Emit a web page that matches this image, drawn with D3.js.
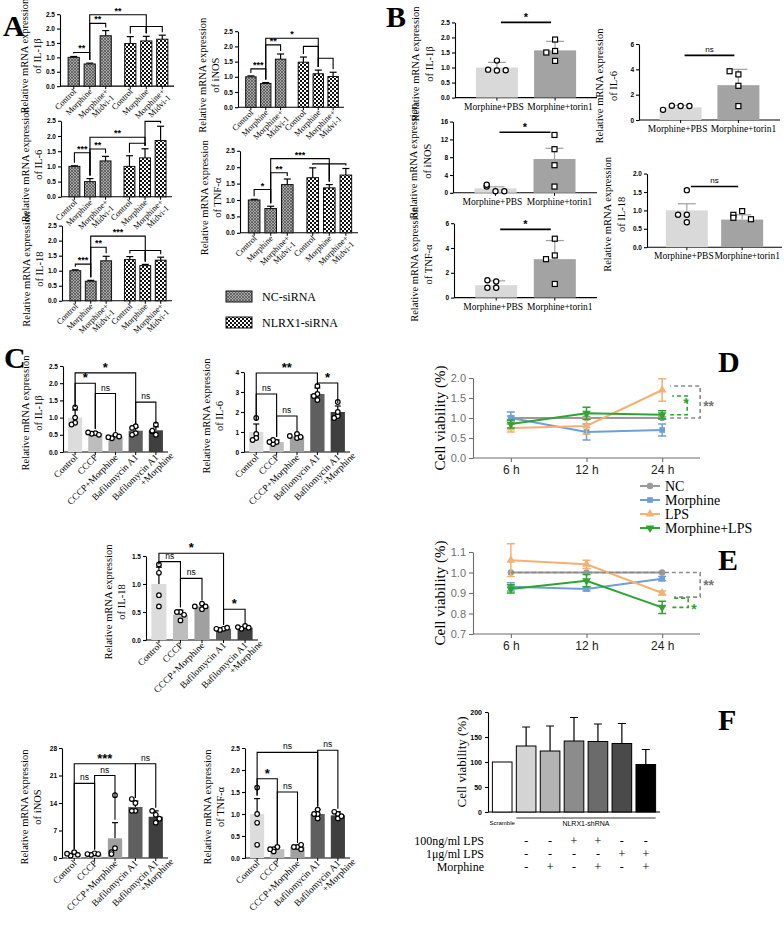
<!DOCTYPE html>
<html><head><meta charset="utf-8">
<script src="https://cdn.jsdelivr.net/npm/d3@7"></script>
<style>body{margin:0;background:#fff}svg{display:block}</style>
</head><body>
<svg id="fig" width="784" height="927"></svg>
<script>
// ================= DATA =================
const A_groups = ["NC-siRNA", "NLRX1-siRNA"];
const A_treat = ["Control", "Morphine", "Morphine+Midvi-1"];
const A_IL1b_mean = [1.0, 0.77, 1.75, 1.48, 1.57, 1.63];
const A_IL1b_err  = [0.03, 0.03, 0.18, 0.24, 0.16, 0.14];
const A_IL1b_sig  = [[0,1,1.17,"**"],[1,2,2.18,"**"],[1,4,2.48,"**"],[3,4,2.07,""],[4,5,2.07,""]];
const A_iNOS_mean = [1.0, 0.78, 1.58, 1.48, 1.1, 1.01];
const A_iNOS_err  = [0.03, 0.03, 0.17, 0.17, 0.12, 0.14];
const A_iNOS_sig  = [[0,1,1.26,"***"],[1,2,2.05,"**"],[1,4,2.27,"*"],[3,4,2.0,""],[4,5,1.61,""]];
const A_IL6_mean  = [1.0, 0.5, 1.18, 1.0, 1.28, 1.85];
const A_IL6_err   = [0.02, 0.1, 0.15, 0.35, 0.3, 0.47];
const A_IL6_sig   = [[0,1,1.45,"***"],[1,2,1.57,"**"],[1,4,1.96,"**"],[3,4,1.76,""],[4,5,2.48,""]];
const A_TNF_mean  = [1.0, 0.74, 1.47, 1.68, 1.37, 1.76];
const A_TNF_err   = [0.02, 0.07, 0.17, 0.3, 0.1, 0.2];
const A_TNF_sig   = [[0,1,1.32,"*"],[1,2,1.83,"**"],[1,4,2.26,"***"],[3,4,2.1,""],[4,5,2.1,""]];
const A_IL18_mean = [1.0, 0.65, 1.33, 1.37, 1.17, 1.35];
const A_IL18_err  = [0.03, 0.03, 0.15, 0.1, 0.04, 0.1];
const A_IL18_sig  = [[0,1,1.22,"***"],[1,2,1.78,"**"],[1,4,2.15,"***"],[3,4,1.67,""],[4,5,1.67,""]];
const A_ticks = [0, 0.5, 1.0, 1.5, 2.0, 2.5];

const B_cats = ["Morphine+PBS", "Morphine+torin1"];
const B_IL1b_mean = [1.0, 1.57], B_IL1b_err = [0.17, 0.3];
const B_IL1b_pts = [[0.9, 0.93, 0.91, 1.23], [1.93, 1.55, 1.5, 1.22]];
const B_IL6_mean = [1.0, 2.75], B_IL6_err = [0.15, 1.25];
const B_IL6_pts = [[1.1, 1.12, 1.1, 0.8], [3.6, 3.85, 2.7, 1.1]];
const B_iNOS_mean = [1.0, 7.6], B_iNOS_err = [0.35, 2.4];
const B_iNOS_pts = [[0.35, 1.4, 1.8, 0.35], [13.0, 9.8, 6.2, 1.4]];
const B_IL18_mean = [1.0, 0.75], B_IL18_err = [0.18, 0.13];
const B_IL18_pts = [[1.55, 0.88, 0.88, 0.68], [0.98, 0.88, 0.8, 0.76]];
const B_TNF_mean = [1.0, 3.1], B_TNF_err = [0.35, 1.5];
const B_TNF_pts = [[1.3, 1.4, 0.8, 0.8], [4.75, 3.4, 3.1, 1.1]];
const B_sigLabels = ["*", "ns", "*", "ns", "*"];

const C_cats = ["Control", "CCCP", "CCCP+Morphine", "Bafilomycin A1", "Bafilomycin A1|+Morphine"];
const C_IL1b_mean = [1.0, 0.55, 0.45, 0.62, 0.63], C_IL1b_err = [0.22, 0.03, 0.05, 0.1, 0.1];
const C_IL1b_pts = [[1.3, 1.0, 0.85, 0.8], [0.55, 0.53, 0.5, 0.57], [0.5, 0.4, 0.45, 0.43], [0.75, 0.55, 0.5, 0.7], [0.8, 0.5, 0.6, 0.62]];
const C_IL1b_sig = [[0,3,2.3,"*"],[0,1,2.0,"*"],[1,2,1.7,"ns"],[3,4,1.45,"ns"]];
const C_IL6_mean = [1.0, 0.5, 0.78, 2.9, 2.0], C_IL6_err = [0.4, 0.1, 0.12, 0.3, 0.3];
const C_IL6_pts = [[1.7, 0.9, 0.7, 0.6], [0.5, 0.4, 0.6, 0.5], [0.9, 0.7, 0.75, 0.8], [3.3, 2.9, 2.6, 2.8], [2.5, 1.8, 1.7, 2.0]];
const C_IL6_sig = [[0,3,3.95,"**"],[0,1,2.9,"ns"],[1,2,1.8,"ns"],[3,4,3.45,"*"]];
const C_IL18_mean = [1.0, 0.45, 0.6, 0.2, 0.22], C_IL18_err = [0.3, 0.08, 0.05, 0.02, 0.02];
const C_IL18_pts = [[1.35, 1.2, 0.6, 0.8], [0.5, 0.35, 0.5, 0.45], [0.65, 0.55, 0.6, 0.6], [0.2, 0.18, 0.22, 0.2], [0.25, 0.2, 0.22, 0.23]];
const C_IL18_sig = [[0,3,1.55,"*"],[0,1,1.4,"ns"],[1,2,1.1,"ns"],[3,4,0.55,"*"]];
const C_iNOS_mean = [1.0, 1.0, 5.0, 13.0, 10.5], C_iNOS_err = [0.5, 0.4, 4.0, 1.5, 1.5];
const C_iNOS_pts = [[1.5, 0.6, 0.8, 1.1], [1.2, 0.8, 1.0, 1.0], [16, 2.5, 1.5, 1.0], [14, 12, 15, 12], [11, 9, 12, 10]];
const C_iNOS_sig = [[0,3,24,"***"],[0,1,19,"ns"],[1,2,21,"ns"],[3,4,24,"ns"]];
const C_TNF_mean = [1.0, 0.2, 0.25, 1.0, 0.97], C_TNF_err = [0.35, 0.05, 0.02, 0.1, 0.08];
const C_TNF_pts = [[1.6, 1.0, 0.8, 0.3], [0.25, 0.2, 0.15, 0.2], [0.25, 0.25, 0.2, 0.3], [1.1, 0.9, 1.0, 1.0], [1.0, 0.9, 1.05, 0.95]];
const C_TNF_sig = [[0,3,2.4,"ns"],[0,1,1.8,"*"],[1,2,1.5,"ns"],[3,4,2.45,"ns"]];

const DE_times = ["6 h", "12 h", "24 h"];
const DE_series = ["NC", "Morphine", "LPS", "Morphine+LPS"];
const D_mean = [[1.0, 1.0, 1.0], [1.0, 0.65, 0.7], [0.75, 0.8, 1.7], [0.85, 1.12, 1.08]];
const D_err  = [[0.05, 0.04, 0.03], [0.15, 0.2, 0.15], [0.1, 0.2, 0.28], [0.1, 0.15, 0.1]];
const E_mean = [[1.0, 1.0, 1.0], [0.93, 0.92, 0.97], [1.06, 1.04, 0.9], [0.92, 0.96, 0.83]];
const E_err  = [[0.0, 0.0, 0.0], [0.02, 0.01, 0.01], [0.08, 0.02, 0.01], [0.02, 0.03, 0.03]];

const F_mean = [100, 132, 122, 142, 141, 137, 95];
const F_err  = [0, 38, 50, 47, 35, 40, 30];
const F_rows = ["100ng/ml LPS", "1μg/ml LPS", "Morphine"];
const F_signs = [["-","-","+","+","-","-"], ["-","-","-","-","+","+"], ["-","+","-","+","-","+"]];

// ================= DRAWING =================
const SY = 0.8;
const SERIF = '"Liberation Serif","Times New Roman",serif';
const SANS = '"Liberation Sans",Arial,Helvetica,sans-serif';
const svg = d3.select("#fig");
const defs = svg.append("defs");
const p1 = defs.append("pattern").attr("id","pNC").attr("width",3).attr("height",3).attr("patternUnits","userSpaceOnUse");
p1.append("rect").attr("width",3).attr("height",3).attr("fill","#a8a8a8");
p1.append("path").attr("d","M0,0L3,3M3,0L0,3").attr("stroke","#4a4a4a").attr("stroke-width",0.7);
const p2 = defs.append("pattern").attr("id","pNL").attr("width",4).attr("height",4).attr("patternUnits","userSpaceOnUse");
p2.append("rect").attr("width",4).attr("height",4).attr("fill","#fff");
p2.append("rect").attr("width",2).attr("height",2).attr("fill","#111");
p2.append("rect").attr("x",2).attr("y",2).attr("width",2).attr("height",2).attr("fill","#111");

function letter(t, x, y) {
  svg.append("text").attr("x",x).attr("y",y).text(t)
    .attr("font-family",SERIF).attr("font-weight","bold").attr("font-size",30);
}
function styleAxis(ga, fs, color) {
  ga.selectAll("text").attr("font-family",SANS).attr("font-size",fs).attr("font-weight","bold").attr("fill",color||"#000");
  ga.selectAll("line,path").attr("stroke",color||"#000").attr("stroke-width",1.1);
}
function yLabel(g, lines, x, y, fs) {
  lines.forEach((s,i)=>{
    g.append("text").attr("transform",`translate(${x[i]},${y}) rotate(-90)`)
      .attr("text-anchor","middle").attr("font-family",SERIF).attr("font-size",fs).text(s);
  });
}
function dodge(vals, y, thr) {
  const placed = [];
  const steps = [0, -8, 8, -16, 16];
  return vals.map(v=>{
    const py = y(v);
    let k = 0;
    for (const p of placed) if (Math.abs(p-py) < thr) k++;
    placed.push(py);
    return {py, dx: steps[Math.min(k,4)]};
  });
}
function barPanel(o) {
  const g = svg.append("g");
  const y = d3.scaleLinear().domain([0,o.max]).range([o.yBase,o.yTop]);
  const ga = g.append("g").attr("transform",`translate(${o.axisX},0)`)
    .call(d3.axisLeft(y).tickValues(o.ticks).tickFormat(d3.format(o.fmt)).tickSize(3).tickSizeOuter(0).tickPadding(2));
  styleAxis(ga, o.tickFs || 7);
  g.append("line").attr("x1",o.axisX).attr("x2",o.axisEnd).attr("y1",o.yBase).attr("y2",o.yBase).attr("stroke","#000").attr("stroke-width",1.1);
  o.bars.forEach(b=>g.append("line").attr("x1",b.x).attr("x2",b.x).attr("y1",o.yBase).attr("y2",o.yBase+3).attr("stroke","#000"));
  const errs = ()=>o.bars.forEach((b,i)=>{
    const top = y(o.mean[i]+o.err[i]);
    g.append("line").attr("x1",b.x).attr("x2",b.x).attr("y1",y(o.mean[i])).attr("y2",top).attr("stroke",o.errColor||"#000").attr("stroke-width",1.2);
    g.append("line").attr("x1",b.x-o.cap/2).attr("x2",b.x+o.cap/2).attr("y1",top).attr("y2",top).attr("stroke",o.errColor||"#000").attr("stroke-width",1.2);
  });
  if (!o.errAbove) errs();
  o.bars.forEach((b,i)=>{
    g.append("rect").attr("x",b.x-b.w/2).attr("y",y(o.mean[i])).attr("width",b.w).attr("height",o.yBase-y(o.mean[i]))
      .attr("fill",o.fills[i]).attr("stroke",o.stroke||"none").attr("stroke-width",1);
  });
  if (o.errAbove) errs();
  if (o.points) {
    o.points.forEach((arr,i)=>{
      const shape = o.shapes ? o.shapes[i] : "circle";
      dodge(arr,y,o.dodgeThr||5).forEach(p=>{
        const cx = o.bars[i].x + p.dx * (o.dodgeScale||1);
        if (shape === "square") g.append("rect").attr("x",cx-2.5).attr("y",p.py-2.5).attr("width",5).attr("height",5).attr("fill","#fff").attr("stroke","#000").attr("stroke-width",1.2);
        else g.append("circle").attr("cx",cx).attr("cy",p.py).attr("r",o.r||2.6).attr("fill","#fff").attr("stroke","#000").attr("stroke-width",1.2);
      });
    });
  }
  (o.sig||[]).forEach(s=>{
    const [i,j,v,lab] = s;
    const xa = o.bars[i].x, xb = o.bars[j].x, yy = y(v);
    if (o.legs) {
      const la = Math.max(yy, y(o.mean[i]+o.err[i]) - 3);
      const lb = Math.max(yy, y(o.mean[j]+o.err[j]) - 3);
      g.append("path").attr("d",`M${xa},${la}V${yy}H${xb}V${lb}`).attr("fill","none").attr("stroke","#000").attr("stroke-width",1.1);
    } else {
      g.append("line").attr("x1",xa-o.sigExt).attr("x2",xb+o.sigExt).attr("y1",yy).attr("y2",yy).attr("stroke","#000").attr("stroke-width",1.6);
    }
    if (lab) {
      const ns = lab === "ns";
      g.append("text").attr("x",(xa+xb)/2).attr("y",yy-(ns?3:1)).attr("text-anchor","middle")
        .attr("font-family",SANS).attr("font-weight",ns?"normal":"bold").attr("font-size",ns?(o.nsFs||9):(o.starFs||10)).text(lab);
    }
  });
  return {g,y};
}

// ---------- Panel A ----------
function aBars(x0, x1) {
  const xs = d3.scaleBand().domain(A_groups).range([x0,x1]).paddingInner(0.18).paddingOuter(0.08);
  const xi = d3.scaleBand().domain(A_treat).range([0,xs.bandwidth()]).paddingInner(0.3).paddingOuter(0.1);
  const out = [];
  A_groups.forEach(gp=>A_treat.forEach(t=>out.push({x:xs(gp)+xi(t)+xi.bandwidth()/2, w:xi.bandwidth()})));
  return out;
}
const A_fill = ["url(#pNC)","url(#pNC)","url(#pNC)","url(#pNL)","url(#pNL)","url(#pNL)"];
function aLabels(g, bars, yBase) {
  bars.forEach((b,i)=>{
    const t = A_treat[i%3];
    const tx = g.append("text").attr("transform",`translate(${b.x+3},${yBase+6}) rotate(-45)`)
      .attr("text-anchor","end").attr("font-family",SERIF).attr("font-size",8.5);
    if (t.indexOf("+")>0) {
      tx.append("tspan").attr("x",0).attr("dy",0).text("Morphine+");
      tx.append("tspan").attr("x",0).attr("dy","1.0em").text("Midvi-1");
    } else tx.text(t);
  });
}
const A_cfgs = [
  {axisX:60, axisEnd:174, yTop:17.7*SY, yBase:107.7*SY, mean:A_IL1b_mean, err:A_IL1b_err, sig:A_IL1b_sig, lab:"of IL-1β"},
  {axisX:238, axisEnd:344, yTop:39*SY, yBase:134*SY, mean:A_iNOS_mean, err:A_iNOS_err, sig:A_iNOS_sig, lab:"of iNOS"},
  {axisX:61, axisEnd:172, yTop:151*SY, yBase:246*SY, mean:A_IL6_mean, err:A_IL6_err, sig:A_IL6_sig, lab:"of IL-6"},
  {axisX:240, axisEnd:358, yTop:188.5*SY, yBase:291*SY, mean:A_TNF_mean, err:A_TNF_err, sig:A_TNF_sig, lab:"of TNF-α"},
  {axisX:62, axisEnd:172, yTop:282*SY, yBase:376*SY, mean:A_IL18_mean, err:A_IL18_err, sig:A_IL18_sig, lab:"of IL-18"}
];
A_cfgs.forEach(c=>{
  const bars = aBars(c.axisX+2, c.axisEnd);
  const r = barPanel(Object.assign({max:2.5, ticks:A_ticks, fmt:".1f", bars, fills:A_fill, stroke:"#111", cap:7, legs:true, tickFs:6.5, starFs:9}, c));
  aLabels(r.g, bars, c.yBase);
  yLabel(r.g, ["Relative mRNA expression", c.lab], [c.axisX-32, c.axisX-19], (c.yTop+c.yBase)/2+6, 10.5);
});
[["url(#pNC)","NC-siRNA",291],["url(#pNL)","NLRX1-siRNA",317]].forEach(d=>{
  svg.append("rect").attr("x",226).attr("y",d[2]).attr("width",26).attr("height",11).attr("fill",d[0]).attr("stroke","#111");
  svg.append("text").attr("x",262).attr("y",d[2]+10).attr("font-family",SERIF).attr("font-size",12).text(d[1]);
});
letter("A", 3, 36);

// ---------- Panel B ----------
function bBars(x0, x1, pad, w) {
  const x = d3.scalePoint().domain(B_cats).range([x0,x1]).padding(pad);
  return B_cats.map(c=>({x:x(c), w}));
}
const B_cfgs = [
  {axisX:455, axisEnd:597, yTop:28*SY, yBase:122*SY, max:2.5, ticks:[0,0.5,1,1.5,2,2.5], fmt:".1f", mean:B_IL1b_mean, err:B_IL1b_err, pts:B_IL1b_pts, lab:"of IL-1β", sy:2.5},
  {axisX:639, axisEnd:780, yTop:55*SY, yBase:150*SY, max:6, ticks:[0,2,4,6], fmt:"d", mean:B_IL6_mean, err:B_IL6_err, pts:B_IL6_pts, lab:"of IL-6", sy:5.1},
  {axisX:453, axisEnd:597, yTop:152*SY, yBase:241*SY, max:16, ticks:[0,4,8,12,16], fmt:"d", mean:B_iNOS_mean, err:B_iNOS_err, pts:B_iNOS_pts, lab:"of iNOS", sy:13.6},
  {axisX:647, axisEnd:782, yTop:217*SY, yBase:309*SY, max:2.0, ticks:[0,0.5,1,1.5,2], fmt:".1f", mean:B_IL18_mean, err:B_IL18_err, pts:B_IL18_pts, lab:"of IL-18", sy:1.65},
  {axisX:454, axisEnd:597, yTop:279*SY, yBase:372*SY, max:6, ticks:[0,2,4,6], fmt:"d", mean:B_TNF_mean, err:B_TNF_err, pts:B_TNF_pts, lab:"of TNF-α", sy:5.5}
];
B_cfgs.forEach((c,k)=>{
  const bars = bBars(c.axisX, c.axisEnd, 0.72, 42);
  const r = barPanel(Object.assign({bars, fills:["#d9d9d9","#a3a3a3"], cap:18, errColor:"#a0a0a0", errAbove:true, tickFs:6.5,
    points:c.pts, shapes:["circle","square"], sig:[[0,1,c.sy,B_sigLabels[k]]], legs:false, sigExt:-4, starFs:11, nsFs:8, dodgeScale:1.1}, c));
  bars.forEach((b,i)=>r.g.append("text").attr("x",b.x+(i?5:-3)).attr("y",c.yBase+12).attr("text-anchor","middle")
    .attr("font-family",SERIF).attr("font-size",9.5).text(B_cats[i]));
  yLabel(r.g, ["Relative mRNA expression", c.lab], [c.axisX-36, c.axisX-22], (c.yTop+c.yBase)/2+4, 10.5);
});
letter("B", 386, 27);

// ---------- Panel C ----------
const C_fills = ["#dcdcdc","#bdbdbd","#a0a0a0","#5f5f5f","#3f3f3f"];
function cBars(x0, x1) {
  const x = d3.scaleBand().domain(C_cats).range([x0,x1]).paddingInner(0.3).paddingOuter(0.25);
  return C_cats.map(c=>({x:x(c)+x.bandwidth()/2, w:x.bandwidth()}));
}
const C_cfgs = [
  {axisX:63, axisEnd:168, yTop:366, yBase:452, max:2.5, ticks:[0,0.5,1,1.5,2,2.5], fmt:".1f", mean:C_IL1b_mean, err:C_IL1b_err, pts:C_IL1b_pts, sig:C_IL1b_sig, lab:"of IL-1β"},
  {axisX:244, axisEnd:350, yTop:372, yBase:452, max:4, ticks:[0,1,2,3,4], fmt:"d", mean:C_IL6_mean, err:C_IL6_err, pts:C_IL6_pts, sig:C_IL6_sig, lab:"of IL-6"},
  {axisX:146, axisEnd:258, yTop:556, yBase:640, max:1.5, ticks:[0,0.5,1,1.5], fmt:".1f", mean:C_IL18_mean, err:C_IL18_err, pts:C_IL18_pts, sig:C_IL18_sig, lab:"of IL-18"},
  {axisX:62, axisEnd:168, yTop:748, yBase:858, max:28, ticks:[0,7,14,21,28], fmt:"d", mean:C_iNOS_mean, err:C_iNOS_err, pts:C_iNOS_pts, sig:C_iNOS_sig, lab:"of iNOS"},
  {axisX:245, axisEnd:350, yTop:748, yBase:858, max:2.5, ticks:[0,0.5,1,1.5,2,2.5], fmt:".1f", mean:C_TNF_mean, err:C_TNF_err, pts:C_TNF_pts, sig:C_TNF_sig, lab:"of TNF-α"}
];
C_cfgs.forEach(c=>{
  const bars = cBars(c.axisX, c.axisEnd);
  const r = barPanel(Object.assign({bars, fills:C_fills, cap:6, errColor:"#000", legs:true, points:c.pts, starFs:13, nsFs:8.5, dodgeScale:0.45, tickFs:6.5, r:2.3, dodgeThr:4}, c));
  bars.forEach((b,i)=>{
    const parts = C_cats[i].split("|");
    const tx = r.g.append("text").attr("transform",`translate(${b.x+3},${c.yBase+6}) rotate(-45)`)
      .attr("text-anchor","end").attr("font-family",SERIF).attr("font-size",9.5);
    parts.forEach((p,k)=>tx.append("tspan").attr("x", k?12:0).attr("dy", k?"1.0em":0).text(p));
  });
  yLabel(r.g, ["Relative mRNA expression", c.lab], [c.axisX-34, c.axisX-21], (c.yTop+c.yBase)/2+4, 10.5);
});
letter("C", 4, 368);

// ---------- Panels D & E ----------
const DE_colors = ["#9a9a9a","#6f9fd6","#f4b171","#2ca531"];
const DE_sym = [d3.symbolCircle, d3.symbolSquare, d3.symbolTriangle, d3.symbolTriangle];
function lineChart(o) {
  const g = svg.append("g");
  const x = d3.scalePoint().domain(DE_times).range([o.x0,o.x1]).padding(0.5);
  const y = d3.scaleLinear().domain(o.dom).range([o.yBase,o.yTop]);
  const ga = g.append("g").attr("transform",`translate(${o.x0},0)`)
    .call(d3.axisLeft(y).tickValues(o.ticks).tickFormat(d3.format(".1f")).tickSize(4).tickSizeOuter(0));
  styleAxis(ga, 11, "#6d6d6d");
  ga.selectAll("text").attr("font-weight","normal");
  const gx = g.append("g").attr("transform",`translate(0,${o.yBase})`)
    .call(d3.axisBottom(x).tickSize(4).tickSizeOuter(0));
  styleAxis(gx, 12, "#6d6d6d");
  gx.selectAll("text").attr("font-weight","normal").attr("fill","#222").attr("font-size",12);
  gx.select(".domain").attr("d",`M${o.x0},0H${o.x1}`);
  o.mean.forEach((ser,si)=>{
    const col = DE_colors[si];
    const line = d3.line().x((d,i)=>x(DE_times[i])).y(d=>y(d));
    g.append("path").attr("d",line(ser)).attr("fill","none").attr("stroke",col).attr("stroke-width",2);
    ser.forEach((v,i)=>{
      const e = o.err[si][i];
      const xx = x(DE_times[i]);
      if (e>0) g.append("path").attr("d",`M${xx-4},${y(v+e)}H${xx+4}M${xx},${y(v+e)}V${y(v-e)}M${xx-4},${y(v-e)}H${xx+4}`).attr("stroke",col).attr("stroke-width",1.5).attr("fill","none");
      g.append("path").attr("d",d3.symbol(DE_sym[si], 32)()).attr("fill",col)
        .attr("transform",`translate(${xx},${y(v)})${si===3?" rotate(180)":""}`);
    });
  });
  yLabel(g, ["Cell viability (%)"], [o.x0-28], (o.yTop+o.yBase)/2, 15);
  return {g,x,y};
}
const D = lineChart({x0:473, x1:700, yTop:378, yBase:458, dom:[0,2], ticks:[0,0.5,1,1.5,2], mean:D_mean, err:D_err});
{
  const x24 = D.x("24 h"), y = D.y;
  D.g.append("path").attr("d",`M${x24+8},${y(D_mean[0][2])}H${x24+38}V${y(D_mean[2][2]+0.1)}H${x24+8}`).attr("fill","none").attr("stroke","#8a8a8a").attr("stroke-width",1.6).attr("stroke-dasharray","4,3");
  D.g.append("path").attr("d",`M${x24+8},${y(D_mean[3][2])}H${x24+25}V${y(D_mean[2][2]-0.15)}H${x24+10}`).attr("fill","none").attr("stroke","#2ca531").attr("stroke-width",1.6).attr("stroke-dasharray","4,3");
  D.g.append("text").attr("x",x24+21).attr("y",y(1.38)+5).attr("font-family",SANS).attr("font-size",14).attr("font-weight","bold").attr("fill","#2ca531").text("*");
  D.g.append("text").attr("x",x24+41).attr("y",y(1.3)+5).attr("font-family",SANS).attr("font-size",14).attr("font-weight","bold").attr("fill","#777").text("**");
}
letter("D", 718, 372);
const E = lineChart({x0:473, x1:700, yTop:552, yBase:634, dom:[0.7,1.1], ticks:[0.7,0.8,0.9,1.0,1.1], mean:E_mean, err:E_err});
{
  const x24 = E.x("24 h"), y = E.y;
  E.g.append("path").attr("d",`M${E.x("6 h")},${y(1.0)}H${x24+38}V${y(0.88)}H${x24+12}`).attr("fill","none").attr("stroke","#8a8a8a").attr("stroke-width",1.6).attr("stroke-dasharray","4,3");
  E.g.append("path").attr("d",`M${x24+12},${y(0.875)}H${x24+26}V${y(0.83)}H${x24+10}`).attr("fill","none").attr("stroke","#2ca531").attr("stroke-width",1.6).attr("stroke-dasharray","4,3");
  E.g.append("text").attr("x",x24+41).attr("y",y(0.94)+5).attr("font-family",SANS).attr("font-size",14).attr("font-weight","bold").attr("fill","#777").text("**");
  E.g.append("text").attr("x",x24+29).attr("y",y(0.82)+5).attr("font-family",SANS).attr("font-size",14).attr("font-weight","bold").attr("fill","#2ca531").text("*");
}
letter("E", 718, 570);
DE_series.forEach((s,i)=>{
  const yy = 486 + i*14;
  svg.append("line").attr("x1",640).attr("x2",660).attr("y1",yy).attr("y2",yy).attr("stroke",DE_colors[i]).attr("stroke-width",2);
  svg.append("path").attr("d",d3.symbol(DE_sym[i],32)()).attr("fill",DE_colors[i]).attr("transform",`translate(650,${yy})${i===3?" rotate(180)":""}`);
  svg.append("text").attr("x",665).attr("y",yy+5).attr("font-family",SERIF).attr("font-size",14).text(s);
});

// ---------- Panel F ----------
{
  const g = svg.append("g");
  const cats = d3.range(F_mean.length);
  const x = d3.scaleBand().domain(cats).range([490,658]).paddingInner(0.18).paddingOuter(0.1);
  const y = d3.scaleLinear().domain([0,200]).range([812,712]);
  const ga = g.append("g").attr("transform","translate(488,0)").call(d3.axisLeft(y).tickValues([0,50,100,150,200]).tickSize(3).tickSizeOuter(0));
  styleAxis(ga, 7);
  g.append("line").attr("x1",488).attr("x2",660).attr("y1",812).attr("y2",812).attr("stroke","#000").attr("stroke-width",1.1);
  const fills = ["#fff","#d4d4d4","#b3b3b3","#8c8c8c","#6b6b6b","#4a4a4a","#000"];
  cats.forEach(i=>{
    const cx = x(i)+x.bandwidth()/2;
    if (F_err[i]>0) g.append("path").attr("d",`M${cx},${y(F_mean[i])}V${y(F_mean[i]+F_err[i])}M${cx-4},${y(F_mean[i]+F_err[i])}H${cx+4}`).attr("stroke","#000").attr("stroke-width",1.2);
    g.append("rect").attr("x",x(i)).attr("y",y(F_mean[i])).attr("width",x.bandwidth()).attr("height",812-y(F_mean[i])).attr("fill",fills[i]).attr("stroke","#000").attr("stroke-width",1);
  });
  g.append("text").attr("x",x(0)+x.bandwidth()/2).attr("y",825).attr("text-anchor","middle").attr("font-family",SANS).attr("font-size",6).text("Scramble");
  g.append("line").attr("x1",x(1)).attr("x2",x(6)+x.bandwidth()).attr("y1",818).attr("y2",818).attr("stroke","#000").attr("stroke-width",0.8);
  g.append("text").attr("x",(x(1)+x(6)+x.bandwidth())/2).attr("y",826).attr("text-anchor","middle").attr("font-family",SANS).attr("font-size",7).text("NLRX1-shRNA");
  F_rows.forEach((r,ri)=>{
    const yy = 845 + ri*13;
    g.append("text").attr("x",484).attr("y",yy).attr("text-anchor","end").attr("font-family",SERIF).attr("font-size",12).text(r);
    F_signs[ri].forEach((s,k)=>g.append("text").attr("x",x(k+1)+x.bandwidth()/2).attr("y",yy).attr("text-anchor","middle").attr("font-family",SERIF).attr("font-size",12).text(s));
  });
  yLabel(g, ["Cell viability (%)"], [466], 762, 13);
}
letter("F", 718, 730);
</script>
</body></html>
